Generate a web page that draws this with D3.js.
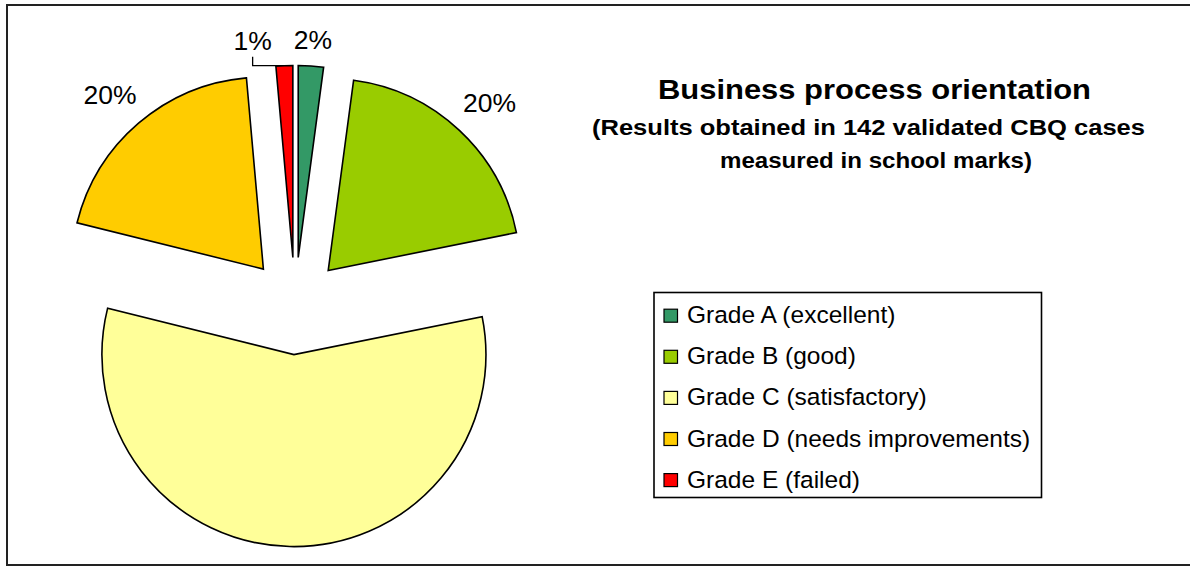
<!DOCTYPE html>
<html>
<head>
<meta charset="utf-8">
<script src="https://cdn.jsdelivr.net/npm/d3@7"></script>
<style>
  body { margin: 0; background: #fff; }
  text { font-family: "Liberation Sans", Arial, sans-serif; }
</style>
</head>
<body>
<script>
// data: 142 validated CBQ cases by grade
var grades = ["Grade A (excellent)", "Grade B (good)", "Grade C (satisfactory)",
              "Grade D (needs improvements)", "Grade E (failed)"];
var cases = [3, 28, 81, 28, 2];
var colors = ["#339966", "#99cc00", "#ffff99", "#ffcc00", "#ff0000"];
var unlabeled = ["Grade C (satisfactory)"];

var width = 1190, height = 566;
var radius = 192, explode = 48.6;
var cx = 295, cy = 306;

var svg = d3.select("body").append("svg")
    .attr("width", width)
    .attr("height", height);

// outer frame
svg.append("rect")
    .attr("x", 7).attr("y", 5)
    .attr("width", 1200).attr("height", 560)
    .attr("fill", "#fff")
    .attr("stroke", "#222")
    .attr("stroke-width", 2);

var total = d3.sum(cases);
var color = d3.scaleOrdinal(grades, colors);

var pie = d3.pie().sort(null).value(function(d, i) { return cases[i]; });
var arc = d3.arc().innerRadius(0).outerRadius(radius);
var slices = pie(grades);

function midAngle(d) { return (d.startAngle + d.endAngle) / 2; }
function offset(d) {
    var a = midAngle(d);
    return [explode * Math.sin(a), -explode * Math.cos(a)];
}

var g = svg.append("g").attr("transform", "translate(" + cx + "," + cy + ")");
var leaders = g.append("g");

g.selectAll("path.slice")
    .data(slices)
    .enter().append("path")
    .attr("class", "slice")
    .attr("transform", function(d) { var o = offset(d); return "translate(" + o[0] + "," + o[1] + ")"; })
    .attr("d", arc)
    .attr("fill", function(d) { return color(d.data); })
    .attr("stroke", "#000")
    .attr("stroke-width", 1.6)
    .attr("stroke-linejoin", "miter");

// percent labels, placed just outside each slice
var fs = 26.5, pad = 19;
var labels = slices.filter(function(d) { return unlabeled.indexOf(d.data) < 0; }).map(function(d) {
    var t = g.append("text")
        .attr("font-size", fs)
        .attr("text-anchor", "middle")
        .text(Math.round(d.value / total * 100) + "%");
    var hw = t.node().getComputedTextLength() / 2, hh = fs * 0.37;
    var a = midAngle(d), ux = Math.sin(a), uy = -Math.cos(a);
    var dist = radius + explode + pad + hw * Math.abs(ux) + hh * Math.abs(uy);
    return { d: d, t: t, x: dist * ux, y: dist * uy + 4, hw: hw, hh: hh, moved: false };
});

// push overlapping labels apart (smaller slice gives way)
labels.forEach(function(a) {
    labels.forEach(function(b) {
        if (a === b || a.d.value >= b.d.value) return;
        var ox = a.hw + b.hw - Math.abs(a.x - b.x);
        var oy = a.hh + b.hh - Math.abs(a.y - b.y);
        if (ox > -4 && oy > 0) {
            a.x += (a.x < b.x ? -1 : 1) * (ox + 22);
            a.moved = true;
        }
    });
});

labels.forEach(function(l) {
    l.t.attr("x", l.x).attr("y", l.y + fs * 0.36);
    if (l.moved) {
        var o = offset(l.d), a = midAngle(l.d);
        var px = o[0] + radius * Math.sin(a), py = o[1] - radius * Math.cos(a);
        leaders.append("path")
            .attr("d", "M" + l.x + "," + (l.y + l.hh + 7) + "V" + py + "H" + px)
            .attr("fill", "none")
            .attr("stroke", "#000")
            .attr("stroke-width", 1.3);
    }
});

// title
var title = svg.append("g").attr("font-weight", "bold").attr("fill", "#000");
title.append("text").attr("x", 658).attr("y", 99)
    .attr("font-size", 28).attr("textLength", 433).attr("lengthAdjust", "spacingAndGlyphs")
    .text("Business process orientation");
title.append("text").attr("x", 592).attr("y", 135)
    .attr("font-size", 22).attr("textLength", 553).attr("lengthAdjust", "spacingAndGlyphs")
    .text("(Results obtained in 142 validated CBQ cases");
title.append("text").attr("x", 720).attr("y", 168)
    .attr("font-size", 22).attr("textLength", 312).attr("lengthAdjust", "spacingAndGlyphs")
    .text("measured in school marks)");

// legend
var ly = d3.scalePoint().domain(grades).range([315.7, 315.7 + 4 * 41.1]);
var legend = svg.append("g");
legend.append("rect")
    .attr("x", 654).attr("y", 292.5)
    .attr("width", 387.5).attr("height", 205)
    .attr("fill", "#fff")
    .attr("stroke", "#000")
    .attr("stroke-width", 1.6);

var item = legend.selectAll(".legend")
    .data(grades)
    .enter().append("g")
    .attr("class", "legend")
    .attr("transform", function(d) { return "translate(664," + ly(d) + ")"; });

item.append("rect")
    .attr("x", 0).attr("y", -6.5)
    .attr("width", 13.5).attr("height", 13)
    .attr("fill", function(d) { return color(d); })
    .attr("stroke", "#000")
    .attr("stroke-width", 1.2);

item.append("text")
    .attr("x", 23).attr("y", 7.5)
    .attr("font-size", 24.5)
    .text(function(d) { return d; });
</script>
</body>
</html>
